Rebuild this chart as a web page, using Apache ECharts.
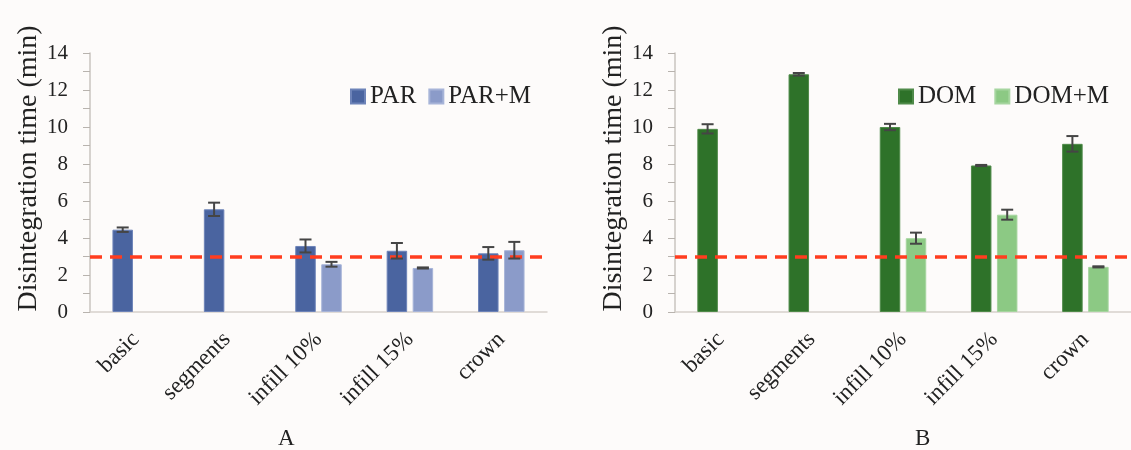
<!DOCTYPE html>
<html>
<head>
<meta charset="utf-8">
<script src="https://cdn.jsdelivr.net/npm/echarts@6/dist/echarts.min.js"></script>
<style>
  html, body { margin: 0; padding: 0; background: #fdfbfa; }
  #chart { width: 1131px; height: 450px; }
</style>
</head>
<body>
<div id="chart"></div>
<script>
// data
var categories = ['basic', 'segments', 'infill 10%', 'infill 15%', 'crown'];
var parValues = [4.45, 5.55, 3.57, 3.31, 3.17];
var parErrors = [0.12, 0.36, 0.35, 0.42, 0.34];
var parMValues = [null, null, 2.58, 2.38, 3.34];
var parMErrors = [null, null, 0.13, 0.03, 0.45];
var domValues = [9.9, 12.85, 10.0, 7.92, 9.09];
var domErrors = [0.25, 0.07, 0.17, 0.03, 0.42];
var domMValues = [null, null, 3.99, 5.26, 2.44];
var domMErrors = [null, null, 0.3, 0.27, 0.03];
var limitLine = 3;
var yTicks = [0, 2, 4, 6, 8, 10, 12, 14];

var FONT = '"Liberation Serif", "DejaVu Serif", serif';
var BAR_W = 20.5;
var GAP_PX = 5.5;
var OFFSET = (BAR_W + GAP_PX) / 2;

var myChart = echarts.init(document.getElementById('chart'));

function errData(values, errors) {
    return values.map(function (v, i) {
        return v == null ? [i, null, null] : [i, v, errors[i]];
    });
}

function errorSeries(idx, values, errors, shift) {
    return {
        type: 'custom',
        xAxisIndex: idx, yAxisIndex: idx,
        z: 5,
        silent: true,
        encode: { x: 0, y: 1 },
        data: errData(values, errors),
        renderItem: function (params, api) {
            var v = api.value(1);
            if (v == null || isNaN(v)) return;
            var e = api.value(2);
            var hi = api.coord([api.value(0), v + e]);
            var lo = api.coord([api.value(0), v - e]);
            var x = hi[0] + shift;
            var cap = 6;
            var st = { stroke: '#454545', lineWidth: 2 };
            return {
                type: 'group',
                children: [
                    { type: 'line', shape: { x1: x, y1: hi[1], x2: x, y2: lo[1] }, style: st },
                    { type: 'line', shape: { x1: x - cap, y1: hi[1], x2: x + cap, y2: hi[1] }, style: st },
                    { type: 'line', shape: { x1: x - cap, y1: lo[1], x2: x + cap, y2: lo[1] }, style: st }
                ]
            };
        }
    };
}

function barSeries(idx, name, values, color, border) {
    return {
        name: name,
        type: 'bar',
        xAxisIndex: idx, yAxisIndex: idx,
        barWidth: BAR_W,
        barGap: (GAP_PX / BAR_W * 100) + '%',
        data: values,
        itemStyle: { color: color, borderColor: border, borderWidth: 1 }
    };
}

function limitSeries(idx) {
    return {
        type: 'line',
        xAxisIndex: idx, yAxisIndex: idx,
        data: [],
        z: 4,
        markLine: {
            silent: true,
            symbol: 'none',
            label: { show: false },
            lineStyle: { color: '#ff3d1f', type: [12, 8], width: 3.5 },
            data: [{ yAxis: limitLine }]
        }
    };
}

function xAxisFor(idx) {
    return {
        type: 'category',
        gridIndex: idx,
        data: categories,
        axisLine: { lineStyle: { color: '#d6d1cc', width: 1.5 } },
        axisTick: { show: false },
        axisLabel: {
            rotate: 45,
            margin: 24,
            fontFamily: FONT,
            fontSize: 23,
            color: '#222'
        }
    };
}

function yAxisFor(idx) {
    return {
        type: 'value',
        gridIndex: idx,
        min: yTicks[0],
        max: yTicks[yTicks.length - 1],
        interval: yTicks[1] - yTicks[0],
        name: 'Disintegration time (min)',
        nameLocation: 'middle',
        nameGap: 46,
        nameTextStyle: { fontFamily: FONT, fontSize: 28, color: '#222', padding: [0, 0, 0, 28] },
        axisLine: { show: true, lineStyle: { color: '#c9c4bf', width: 1.5 } },
        axisTick: { show: true, inside: false, length: 7, lineStyle: { color: '#b8b3ae' } },
        minorTick: { show: true, splitNumber: 2, length: 7, lineStyle: { color: '#b8b3ae' } },
        splitLine: { show: false },
        axisLabel: { margin: 22, fontFamily: FONT, fontSize: 21, color: '#222' }
    };
}

var option = {
    backgroundColor: '#fdfbfa',
    animation: false,
    legend: [
        {
            data: ['PAR', 'PAR+M'],
            left: 350, top: 84, padding: 0,
            itemWidth: 14, itemHeight: 14, itemGap: 12,
            icon: 'rect',
            textStyle: { fontFamily: FONT, fontSize: 25, color: '#222' }
        },
        {
            data: ['DOM', 'DOM+M'],
            left: 898, top: 84, padding: 0,
            itemWidth: 14, itemHeight: 14, itemGap: 18,
            icon: 'rect',
            textStyle: { fontFamily: FONT, fontSize: 25, color: '#222' }
        }
    ],
    grid: [
        { left: 90, top: 53, width: 457, height: 259 },
        { left: 675, top: 53, width: 457, height: 259 }
    ],
    xAxis: [xAxisFor(0), xAxisFor(1)],
    yAxis: [yAxisFor(0), yAxisFor(1)],
    graphic: [
        { type: 'text', left: 278, top: 427, style: { text: 'A', font: '23px ' + FONT, fill: '#222' } },
        { type: 'text', left: 915, top: 427, style: { text: 'B', font: '23px ' + FONT, fill: '#222' } }
    ],
    series: [
        barSeries(0, 'PAR', parValues, '#4a64a0', '#6d83b8'),
        barSeries(0, 'PAR+M', parMValues, '#8b9bc9', '#a7b4d8'),
        limitSeries(0),
        errorSeries(0, parValues, parErrors, -OFFSET),
        errorSeries(0, parMValues, parMErrors, OFFSET),
        barSeries(1, 'DOM', domValues, '#2e7229', '#4f8a49'),
        barSeries(1, 'DOM+M', domMValues, '#8cc984', '#a6d59f'),
        limitSeries(1),
        errorSeries(1, domValues, domErrors, -OFFSET),
        errorSeries(1, domMValues, domMErrors, OFFSET)
    ]
};

myChart.setOption(option);
</script>
</body>
</html>
